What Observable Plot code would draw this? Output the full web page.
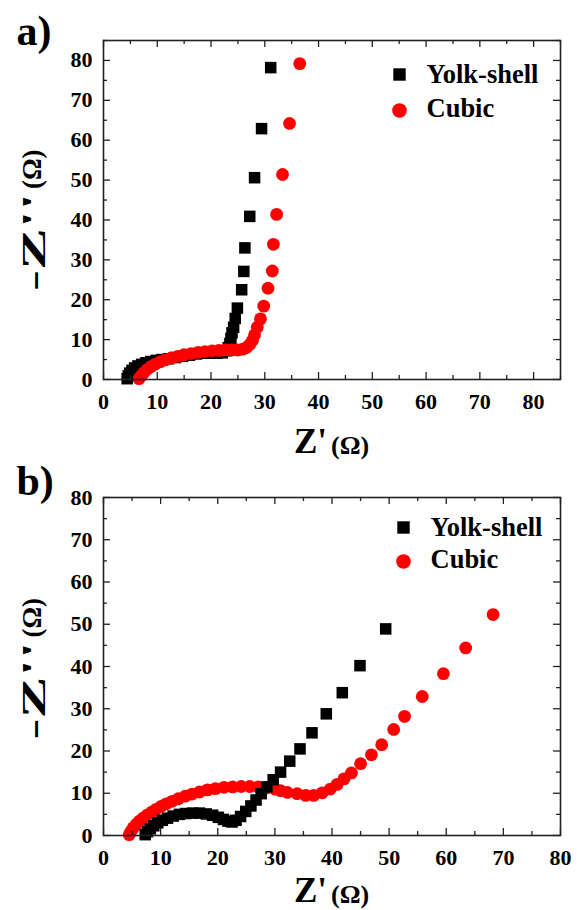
<!DOCTYPE html>
<html><head><meta charset="utf-8">
<script src="https://cdn.jsdelivr.net/npm/d3@7"></script>
<script src="https://cdn.jsdelivr.net/npm/@observablehq/plot@0.6"></script>
<style>
body{margin:0;background:#fff;}
#chart{position:relative;width:577px;height:910px;background:#fff;}
#chart svg{display:block;overflow:visible;}
#chart svg text{font-family:"Liberation Serif","Times New Roman",serif !important;font-weight:bold !important;}
</style></head><body><div id="chart"></div>
<script>
// ---- Panel a data (Z' , -Z'') ----
const yolkA_x = [4.4,4.6,4.9,5.3,5.8,6.4,7.1,7.9,8.8,9.8,10.9,12.1,13.4,14.7,16.0,17.3,18.6,19.9,21.1,22.1,22.8,23.2,23.5,23.7,23.9,24.2,24.5,24.9,25.7,26.1,26.3,27.2,28.1,29.4,31.1];
const yolkA_y = [0.2,0.9,1.6,2.3,2.9,3.4,3.8,4.2,4.5,4.8,5.0,5.2,5.5,5.8,6.1,6.4,6.6,6.6,6.6,6.7,7.2,8.0,9.0,10.3,11.7,13.1,15.3,17.9,22.5,27.1,33.0,40.9,50.6,62.9,78.2];
const cubicA_x = [6.6,7.0,7.5,8.1,8.8,9.6,10.5,11.5,12.6,13.8,15.0,16.3,17.6,18.9,20.2,21.5,22.7,23.9,25.0,25.9,26.6,27.2,27.7,28.1,28.6,29.2,29.8,30.6,31.4,31.6,32.2,33.3,34.6,36.5];
const cubicA_y = [0.2,0.9,1.7,2.5,3.2,3.8,4.4,4.9,5.4,5.8,6.2,6.5,6.8,7.0,7.2,7.3,7.4,7.4,7.4,7.6,8.0,8.8,9.8,11.2,13.1,15.2,18.4,22.9,27.2,33.9,41.4,51.4,64.2,79.2];
// ---- Panel b data ----
const yolkB_x = [7.3,7.7,8.2,8.8,9.5,10.3,11.2,12.2,13.3,14.4,15.6,16.8,18.0,19.1,20.1,21.0,21.8,22.5,23.2,24.0,24.9,25.8,26.7,27.6,28.6,29.7,31.0,32.6,34.4,36.5,39.0,41.8,44.9,49.4];
const yolkB_y = [0.2,0.9,1.6,2.3,3.0,3.6,4.1,4.6,5.0,5.2,5.3,5.3,5.1,4.8,4.3,3.8,3.4,3.2,3.6,4.5,5.7,7.0,8.4,9.9,11.5,13.2,15.0,17.6,20.5,24.3,28.8,33.8,40.2,48.9];
const cubicB_x = [4.5,4.8,5.2,5.7,6.3,6.9,7.6,8.4,9.2,10.1,11.0,12.0,13.1,14.3,15.5,16.8,18.2,19.6,21.1,22.6,24.1,25.6,27.1,28.6,30.0,31.0,32.2,33.9,35.4,36.8,38.3,39.7,40.9,42.1,43.4,45.0,46.9,48.7,50.8,52.7,55.8,59.5,63.4,68.2];
const cubicB_y = [0.2,1.0,1.8,2.6,3.4,4.1,4.8,5.5,6.2,6.9,7.5,8.1,8.7,9.3,9.8,10.3,10.8,11.1,11.4,11.5,11.6,11.6,11.5,11.3,11.0,10.6,10.2,9.9,9.5,9.5,10.1,11.0,12.1,13.4,14.8,17.0,19.1,21.5,25.1,28.2,32.9,38.3,44.4,52.3];
// ---- Axis ticks ----
const xMajorA = [0,10,20,30,40,50,60,70,80];
const xMinorA = [5,15,25,35,45,55,65,75,85];
const yMajorA = [0,10,20,30,40,50,60,70,80];
const yMinorA = [5,15,25,35,45,55,65,75,85];
const xMajorB = [0,10,20,30,40,50,60,70,80];
const xMinorB = [5,15,25,35,45,55,65,75];
const yMajorB = [0,10,20,30,40,50,60,70,80];
const yMinorB = [5,15,25,35,45,55,65,75];
const seriesNames = ["Yolk-shell", "Cubic"];
const seriesColors = ["#000000", "#ff0000"];
const seriesSymbols = ["square", "circle"];
const xTitle = ["Z'", "(Ω)"];
const yTitle = ["-Z''", "(Ω)"];

const FONT = "Liberation Serif";
const zip = (xs, ys) => xs.map((x, i) => ({x, y: ys[i]}));

function panel(cfg) {
  const fw = 577 - 103 - 17;
  const fh = cfg.height - cfg.marginTop - cfg.marginBottom;
  const tk = {stroke: "#222", strokeWidth: 1.3};
  const txt = {fontFamily: FONT, fontWeight: "bold", fill: "#000"};
  const yolk = zip(cfg.yolk[0], cfg.yolk[1]);
  const cubic = zip(cfg.cubic[0], cfg.cubic[1]);
  const dotYolk = Plot.dot(yolk, {x: "x", y: "y", symbol: seriesSymbols[0], r: 6.5, fill: seriesColors[0], stroke: "none"});
  const dotCubic = Plot.dot(cubic, {x: "x", y: "y", symbol: seriesSymbols[1], r: 6.4, fill: seriesColors[1], stroke: "none"});
  const dots = cfg.yolkOnTop ? [dotCubic, dotYolk] : [dotYolk, dotCubic];
  return Plot.plot({
    width: 577, height: cfg.height,
    marginLeft: 103, marginRight: 17, marginTop: cfg.marginTop, marginBottom: cfg.marginBottom,
    x: {domain: cfg.xDomain},
    y: {domain: cfg.yDomain},
    style: {fontFamily: FONT, background: "transparent", overflow: "visible"},
    marks: [
      ...dots,
      Plot.tickX(cfg.xMajor, {x: d => d, insetTop: fh - 7, ...tk}),
      Plot.tickX(cfg.xMajor, {x: d => d, insetBottom: fh - 7, ...tk}),
      Plot.tickX(cfg.xMinor, {x: d => d, insetTop: fh - 4, ...tk}),
      Plot.tickX(cfg.xMinor, {x: d => d, insetBottom: fh - 4, ...tk}),
      Plot.tickY(cfg.yMajor, {y: d => d, insetRight: fw - 7, ...tk}),
      Plot.tickY(cfg.yMajor, {y: d => d, insetLeft: fw - 7, ...tk}),
      Plot.tickY(cfg.yMinor, {y: d => d, insetRight: fw - 4, ...tk}),
      Plot.tickY(cfg.yMinor, {y: d => d, insetLeft: fw - 4, ...tk}),
      Plot.frame({stroke: "#222", strokeWidth: 1.6}),
      Plot.axisX(cfg.xMajor, {tickSize: 0, tickPadding: 14, fontSize: 22, label: null, ...txt}),
      Plot.axisY(cfg.yMajor, {tickSize: 0, tickPadding: 11, fontSize: 22, label: null, ...txt}),
      // x axis title
      Plot.text([xTitle[0]], {text: d => d, frameAnchor: "bottom", dx: -5, dy: cfg.xLabelDy, textAnchor: "end", lineAnchor: "bottom", fontSize: 35, ...txt}),
      Plot.text([xTitle[1]], {text: d => d, frameAnchor: "bottom", dx: -1, dy: cfg.xLabelDy + 1, textAnchor: "start", lineAnchor: "bottom", fontSize: 26, ...txt}),
      // y axis title (rotated)
      Plot.text([yTitle[0]], {text: d => d, frameAnchor: "left", dx: -59, dy: cfg.yLabelDy + 2, rotate: -90, textAnchor: "end", lineAnchor: "bottom", fontSize: 34, ...txt}),
      Plot.text([yTitle[1]], {text: d => d, frameAnchor: "left", dx: -63, dy: cfg.yLabelDy - 2, rotate: -90, textAnchor: "start", lineAnchor: "bottom", fontSize: 27, ...txt}),
      // panel letter
      Plot.text([cfg.letter], {text: d => d, frameAnchor: "top-left", dx: -87, dy: cfg.letterDy, textAnchor: "start", lineAnchor: "bottom", fontSize: 42, ...txt}),
      // legend
      Plot.dot([seriesNames[0]], {frameAnchor: "top-right", dx: cfg.legDx, dy: cfg.legDy, symbol: seriesSymbols[0], r: 7, fill: seriesColors[0]}),
      Plot.dot([seriesNames[1]], {frameAnchor: "top-right", dx: cfg.legDx, dy: cfg.legDy + cfg.legGap, symbol: seriesSymbols[1], r: 7.3, fill: seriesColors[1]}),
      Plot.text([seriesNames[0]], {text: d => d, frameAnchor: "top-right", dx: cfg.legDx + 27, dy: cfg.legDy, textAnchor: "start", lineAnchor: "middle", fontSize: 26.5, ...txt}),
      Plot.text([seriesNames[1]], {text: d => d, frameAnchor: "top-right", dx: cfg.legDx + 27, dy: cfg.legDy + cfg.legGap - 2, textAnchor: "start", lineAnchor: "middle", fontSize: 26.5, ...txt})
    ]
  });
}

const chart = document.getElementById("chart");
chart.append(panel({
  letter: "a)", height: 465, marginTop: 40, marginBottom: 86,
  xDomain: [0, 85], yDomain: [0, 85],
  xMajor: xMajorA, xMinor: xMinorA, yMajor: yMajorA, yMinor: yMinorA,
  yolk: [yolkA_x, yolkA_y], cubic: [cubicA_x, cubicA_y], yolkOnTop: false,
  xLabelDy: 73, yLabelDy: -19, letterDy: 4,
  legDx: -161, legDy: 34, legGap: 36
}));
chart.append(panel({
  letter: "b)", height: 445, marginTop: 32, marginBottom: 75,
  xDomain: [0, 80], yDomain: [0, 80],
  xMajor: xMajorB, xMinor: xMinorB, yMajor: yMajorB, yMinor: yMinorB,
  yolk: [yolkB_x, yolkB_y], cubic: [cubicB_x, cubicB_y], yolkOnTop: true,
  xLabelDy: 66, yLabelDy: -27, letterDy: -3,
  legDx: -157, legDy: 30, legGap: 34
}));
// the rotated -Z'' title is drawn elongated in the original figure
chart.querySelectorAll("svg text").forEach(t => {
  if (t.textContent === yTitle[0]) {
    t.setAttribute("textLength", 98);
    t.setAttribute("lengthAdjust", "spacingAndGlyphs");
  }
});
</script></body></html>
